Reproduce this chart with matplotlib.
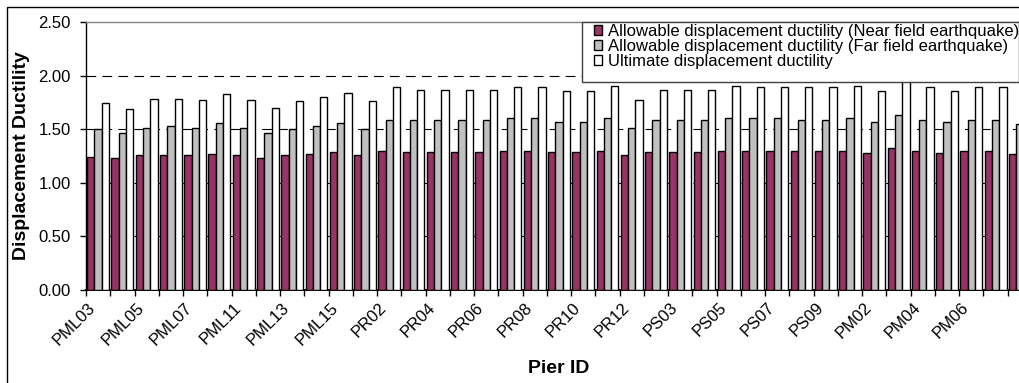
import numpy as np
import matplotlib
matplotlib.use("Agg")
import matplotlib.pyplot as plt
from matplotlib.patches import Rectangle, Patch
from matplotlib.transforms import ScaledTranslation

plt.rcParams["font.family"] = ["Liberation Sans", "DejaVu Sans"]
plt.rcParams["lines.scale_dashes"] = False

pier_ids = ["PML03", "PML04", "PML05", "PML06", "PML07", "PML10", "PML11", "PML12",
            "PML13", "PML14", "PML15", "PR01", "PR02", "PR03", "PR04", "PR05",
            "PR06", "PR07", "PR08", "PR09", "PR10", "PR11", "PR12", "PS02",
            "PS03", "PS04", "PS05", "PS06", "PS07", "PS08", "PS09", "PM01",
            "PM02", "PM03", "PM04", "PM05", "PM06", "PM07", "PM08"]

near_field = [1.24, 1.23, 1.26, 1.26, 1.26, 1.27, 1.26, 1.23, 1.26, 1.27,
              1.29, 1.26, 1.30, 1.29, 1.29, 1.29, 1.29, 1.30, 1.30, 1.29,
              1.29, 1.30, 1.26, 1.29, 1.29, 1.29, 1.30, 1.30, 1.30, 1.30,
              1.30, 1.30, 1.28, 1.32, 1.30, 1.28, 1.30, 1.30, 1.27]

far_field = [1.50, 1.46, 1.51, 1.53, 1.51, 1.56, 1.51, 1.46, 1.50, 1.53,
             1.56, 1.50, 1.59, 1.59, 1.59, 1.59, 1.59, 1.60, 1.60, 1.57,
             1.57, 1.60, 1.51, 1.59, 1.59, 1.59, 1.60, 1.60, 1.60, 1.59,
             1.59, 1.60, 1.57, 1.63, 1.59, 1.57, 1.59, 1.59, 1.55]

ultimate = [1.74, 1.69, 1.78, 1.78, 1.77, 1.83, 1.77, 1.70, 1.76, 1.80,
            1.84, 1.76, 1.89, 1.87, 1.87, 1.87, 1.87, 1.89, 1.89, 1.86,
            1.86, 1.90, 1.77, 1.87, 1.87, 1.87, 1.90, 1.89, 1.89, 1.89,
            1.89, 1.90, 1.86, 2.10, 1.89, 1.86, 1.89, 1.89, 1.89]

series_names = ["Allowable displacement ductility (Near field earthquake)",
                "Allowable displacement ductility (Far field earthquake)",
                "Ultimate displacement ductility"]
series_colors = ["#993366", "#C0C0C0", "#FFFFFF"]

W, H = 1019, 383
fig = plt.figure(figsize=(W / 100, H / 100), dpi=100)
fig.patch.set_facecolor("white")

# chart frame (continues past the right and bottom edges)
fig.patches.append(Rectangle((6.5 / W, -0.5), 2.0, 0.5 + (H - 6.5) / H,
                             transform=fig.transFigure, fill=False,
                             edgecolor="black", linewidth=1.0))

left, right, top, bottom = 86, 1032, 22, 290
ax = fig.add_axes([left / W, (H - bottom) / H, (right - left) / W, (bottom - top) / H])

x = np.arange(len(pier_ids))
bw = 0.3
for k, (vals, col) in enumerate(zip([near_field, far_field, ultimate], series_colors)):
    ax.bar(x + (k - 1) * bw, vals, width=bw, color=col, edgecolor="black",
           linewidth=1.0, zorder=3)

ax.set_xlim(-0.5, len(pier_ids) - 0.5)
ax.set_ylim(0, 2.5)
yt = np.arange(0, 2.51, 0.5)
ax.set_yticks(yt)
ax.set_yticklabels([f"{v:.2f}" for v in yt], fontsize=12)
ax.tick_params(axis="y", direction="out", length=4, width=1, pad=7)

for yv in [0.5, 1.0, 1.5, 2.0]:
    ax.axhline(yv, color="black", linewidth=0.8, linestyle=(0, (7, 4.5)), zorder=1)

# ticks at group boundaries, labels on every other group
ax.set_xticks(np.arange(-0.5, len(pier_ids), 1.0))
ax.set_xticklabels([])
ax.tick_params(axis="x", which="major", direction="out", length=4, width=1)
lab_pos = x[0:37:2]
ax.set_xticks(lab_pos, minor=True)
ax.set_xticklabels([pier_ids[i] for i in lab_pos], minor=True, rotation=45,
                   ha="right", va="center", rotation_mode="anchor", fontsize=12)
ax.tick_params(axis="x", which="minor", length=0, pad=11)
shift = ScaledTranslation(-5 / 100, 0, fig.dpi_scale_trans)
for t in ax.get_xticklabels(minor=True):
    t.set_transform(t.get_transform() + shift)

ax.spines["right"].set_visible(False)
ax.spines["left"].set_linewidth(1.0)
ax.spines["bottom"].set_linewidth(1.4)
ax.spines["top"].set_color("#808080")
ax.spines["top"].set_linewidth(1.0)

ax.set_ylabel("Displacement Ductility", fontsize=14, fontweight="bold")
ax.set_xlabel("Pier ID", fontsize=14, fontweight="bold")
ax.xaxis.set_label_coords((559 - left) / (right - left), -(360 - bottom) / (bottom - top))
ax.yaxis.set_label_coords(-(86 - 30) / (right - left), 0.5)

# legend box
ax.add_patch(Rectangle((582 / W, (H - 82) / H), (1018.5 - 582) / W, 60 / H,
                       transform=fig.transFigure, facecolor="white",
                       edgecolor="#404040", linewidth=1.0, zorder=4, clip_on=False))
handles = [Patch(facecolor=c, edgecolor="black", linewidth=1.0) for c in series_colors]
leg = ax.legend(handles, series_names, loc="upper left",
                bbox_to_anchor=(594 / W, (H - 24) / H), bbox_transform=fig.transFigure,
                frameon=False, fontsize=12, handlelength=0.5, handleheight=0.5,
                handletextpad=0.35, labelspacing=0.0, borderpad=0, borderaxespad=0)
leg.set_zorder(5)

fig.savefig("out.png", dpi=100)
